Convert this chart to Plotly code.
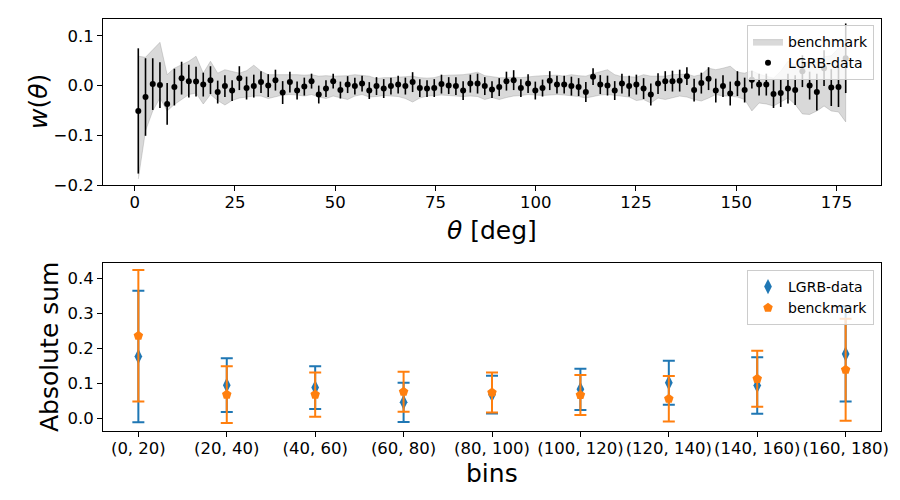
import numpy as np
import plotly.graph_objects as go

# ---------------- top panel data ----------------
theta = np.arange(0.9, 178.0, 1.8)  # bin centres (99 bins)

w_theta = [-0.051, -0.023, 0.003, 0.001, -0.037, -0.003, 0.015, 0.009, 0.008, 0.002,
           0.011, -0.013, -0.001, -0.010, 0.015, -0.005, -0.001, 0.007, 0.000, 0.011,
           -0.014, 0.007, -0.010, -0.002, 0.009, -0.018, -0.006, 0.009, -0.009, 0.002,
           -0.001, 0.004, -0.010, -0.001, -0.006, -0.001, 0.002, -0.001, 0.007, -0.005,
           -0.006, -0.005, 0.003, 0.000, -0.001, -0.010, 0.004, 0.004, -0.001, -0.008,
           -0.003, 0.009, 0.011, -0.005, 0.004, -0.010, -0.005, 0.010, 0.002, 0.002,
           -0.001, -0.003, -0.013, 0.018, 0.002, 0.000, -0.010, 0.004, -0.001, 0.002,
           -0.006, -0.018, 0.004, 0.009, 0.009, 0.010, 0.019, -0.009, 0.005, 0.014,
           -0.010, -0.001, -0.016, 0.004, -0.009, 0.012, 0.002, 0.002, -0.017, -0.015,
           -0.006, -0.009, 0.029, 0.000, -0.013, 0.035, -0.004, -0.003, 0.055]

w_err = [0.126, 0.078, 0.052, 0.046, 0.042, 0.037, 0.033, 0.033, 0.030, 0.024,
         0.028, 0.023, 0.022, 0.021, 0.024, 0.023, 0.023, 0.022, 0.023, 0.021,
         0.023, 0.021, 0.018, 0.018, 0.015, 0.018, 0.017, 0.015, 0.017, 0.017,
         0.017, 0.016, 0.017, 0.018, 0.019, 0.017, 0.018, 0.017, 0.020, 0.018,
         0.017, 0.018, 0.019, 0.017, 0.018, 0.019, 0.018, 0.020, 0.018, 0.017,
         0.018, 0.019, 0.020, 0.018, 0.019, 0.018, 0.017, 0.019, 0.018, 0.018,
         0.019, 0.018, 0.020, 0.017, 0.019, 0.020, 0.019, 0.020, 0.021, 0.020,
         0.021, 0.022, 0.021, 0.020, 0.021, 0.022, 0.018, 0.023, 0.021, 0.023,
         0.024, 0.022, 0.024, 0.025, 0.025, 0.018, 0.022, 0.022, 0.028, 0.028,
         0.030, 0.030, 0.032, 0.028, 0.037, 0.036, 0.037, 0.040, 0.070]

bench_upper = [0.059, 0.057, 0.072, 0.087, 0.022, 0.035, 0.042, 0.049, 0.059, 0.025,
               0.049, 0.025, 0.032, 0.029, 0.025, 0.030, 0.041, 0.029, 0.022, 0.022,
               0.022, 0.023, 0.022, 0.021, 0.022, 0.019, 0.020, 0.019, 0.019, 0.020,
               0.022, 0.020, 0.019, 0.014, 0.016, 0.016, 0.017, 0.018, 0.019, 0.016,
               0.015, 0.016, 0.020, 0.021, 0.021, 0.022, 0.024, 0.027, 0.020, 0.018,
               0.016, 0.016, 0.017, 0.016, 0.018, 0.019, 0.020, 0.020, 0.021, 0.019,
               0.022, 0.020, 0.019, 0.024, 0.028, 0.032, 0.022, 0.018, 0.018, 0.017,
               0.022, 0.019, 0.019, 0.019, 0.022, 0.023, 0.023, 0.019, 0.022, 0.035,
               0.032, 0.035, 0.039, 0.027, 0.025, 0.030, 0.023, 0.019, 0.015, 0.029,
               0.049, 0.042, 0.050, 0.045, 0.055, 0.058, 0.060, 0.075, 0.085]

bench_lower = [-0.188, -0.091, -0.051, -0.025, -0.051, -0.038, -0.028, -0.018, -0.015, -0.037,
               -0.018, -0.030, -0.039, -0.030, -0.025, -0.023, -0.021, -0.021, -0.026, -0.023,
               -0.019, -0.018, -0.019, -0.021, -0.018, -0.023, -0.026, -0.021, -0.025, -0.028,
               -0.021, -0.018, -0.023, -0.022, -0.020, -0.021, -0.022, -0.026, -0.033, -0.025,
               -0.021, -0.020, -0.019, -0.020, -0.021, -0.022, -0.021, -0.022, -0.028, -0.024,
               -0.028, -0.024, -0.021, -0.020, -0.018, -0.019, -0.020, -0.019, -0.018, -0.019,
               -0.020, -0.022, -0.025, -0.022, -0.019, -0.018, -0.020, -0.021, -0.023, -0.030,
               -0.028, -0.035, -0.025, -0.028, -0.025, -0.021, -0.023, -0.028, -0.031, -0.025,
               -0.018, -0.021, -0.021, -0.023, -0.028, -0.051, -0.035, -0.037, -0.041, -0.033,
               -0.025, -0.038, -0.057, -0.058, -0.051, -0.041, -0.051, -0.053, -0.073]

# ---------------- bottom panel data ----------------
bins = ["(0, 20)", "(20, 40)", "(40, 60)", "(60, 80)", "(80, 100)",
        "(100, 120)", "(120, 140)", "(140, 160)", "(160, 180)"]
lgrb_sum = [0.177, 0.095, 0.088, 0.046, 0.068, 0.083, 0.102, 0.094, 0.184]
lgrb_err = [0.188, 0.077, 0.061, 0.056, 0.054, 0.059, 0.063, 0.081, 0.136]
bench_sum = [0.236, 0.068, 0.068, 0.076, 0.074, 0.067, 0.056, 0.113, 0.139]
bench_err = [0.188, 0.081, 0.063, 0.057, 0.057, 0.057, 0.065, 0.080, 0.146]

FONT = "DejaVu Sans"
BLUE = "#1f77b4"
ORANGE = "#ff7f0e"

fig = go.Figure()

theta_list = list(theta)
fig.add_trace(go.Scatter(
    x=theta_list + theta_list[::-1],
    y=list(bench_upper) + list(bench_lower)[::-1],
    fill="toself", fillcolor="rgba(128,128,128,0.3)",
    line=dict(color="rgba(128,128,128,0.3)", width=1),
    mode="lines", name="benchmark", xaxis="x", yaxis="y",
    legend="legend", hoverinfo="skip"))

fig.add_trace(go.Scatter(
    x=theta_list, y=w_theta, mode="markers", name="LGRB-data",
    marker=dict(color="black", size=6),
    error_y=dict(type="data", array=w_err, visible=True, color="black",
                 thickness=1.6, width=0),
    xaxis="x", yaxis="y", legend="legend"))

fig.add_trace(go.Scatter(
    x=bins, y=lgrb_sum, mode="markers", name="LGRB-data",
    marker=dict(color=BLUE, size=11, symbol="diamond-tall"),
    error_y=dict(type="data", array=lgrb_err, visible=True, color=BLUE,
                 thickness=2, width=6),
    xaxis="x2", yaxis="y2", legend="legend2"))

fig.add_trace(go.Scatter(
    x=bins, y=bench_sum, mode="markers", name="benckmark",
    marker=dict(color=ORANGE, size=10, symbol="pentagon"),
    error_y=dict(type="data", array=bench_err, visible=True, color=ORANGE,
                 thickness=2, width=6),
    xaxis="x2", yaxis="y2", legend="legend2"))

axis_common = dict(showline=True, linecolor="black", linewidth=1, mirror=True,
                   ticks="outside", ticklen=5, tickwidth=1, tickcolor="black",
                   showgrid=False, zeroline=False, automargin=False,
                   tickfont=dict(family=FONT, size=16.5, color="black"))

xdom = [103 / 900, 881 / 900]
fig.update_layout(
    width=900, height=500, autosize=False,
    margin=dict(l=0, r=0, t=0, b=0, pad=0, autoexpand=False),
    paper_bgcolor="white", plot_bgcolor="white",
    font=dict(family=FONT, size=14, color="black"),
    xaxis=dict(domain=xdom, anchor="y", range=[-7.9, 186.1],
               tickvals=[0, 25, 50, 75, 100, 125, 150, 175],
               ticklabelstandoff=-3, **axis_common),
    yaxis=dict(domain=[1 - 185 / 500, 1 - 19 / 500], anchor="x",
               range=[-0.2, 0.134], tickvals=[-0.2, -0.1, 0.0, 0.1],
               tickformat=".1f", **axis_common),
    xaxis2=dict(domain=xdom, anchor="y2", type="category", tickangle=0,
                range=[-0.4, 8.4], ticklabelstandoff=-3, **axis_common),
    yaxis2=dict(domain=[1 - 431 / 500, 1 - 263 / 500], anchor="x2",
                range=[-0.036, 0.444], tickvals=[0.0, 0.1, 0.2, 0.3, 0.4],
                tickformat=".1f", **axis_common),
    legend=dict(x=874 / 900, y=1 - 25 / 500, xanchor="right", yanchor="top",
                bgcolor="rgba(255,255,255,0.8)", bordercolor="#cccccc",
                borderwidth=1, tracegroupgap=0,
                font=dict(family=FONT, size=14, color="black")),
    legend2=dict(x=874 / 900, y=1 - 270 / 500, xanchor="right", yanchor="top",
                 bgcolor="rgba(255,255,255,0.8)", bordercolor="#cccccc",
                 borderwidth=1, tracegroupgap=0,
                 font=dict(family=FONT, size=14, color="black")),
    showlegend=True,
)

title_font = dict(family=FONT, size=25, color="black")
fig.add_annotation(text="<i>θ</i> [deg]", xref="paper", yref="paper",
                   x=492 / 900, y=1 - 231 / 500, xanchor="center", yanchor="middle",
                   showarrow=False, font=title_font)
fig.add_annotation(text="bins", xref="paper", yref="paper",
                   x=492 / 900, y=1 - 473 / 500, xanchor="center", yanchor="middle",
                   showarrow=False, font=title_font)
fig.add_annotation(text="<i>w</i>(<i>θ</i>)", xref="paper", yref="paper",
                   x=39 / 900, y=1 - 102 / 500, xanchor="center", yanchor="middle",
                   textangle=-90, showarrow=False, font=title_font)
fig.add_annotation(text="Absolute sum", xref="paper", yref="paper",
                   x=49 / 900, y=1 - 347 / 500, xanchor="center", yanchor="middle",
                   textangle=-90, showarrow=False, font=title_font)

fig.write_html("out.html")
